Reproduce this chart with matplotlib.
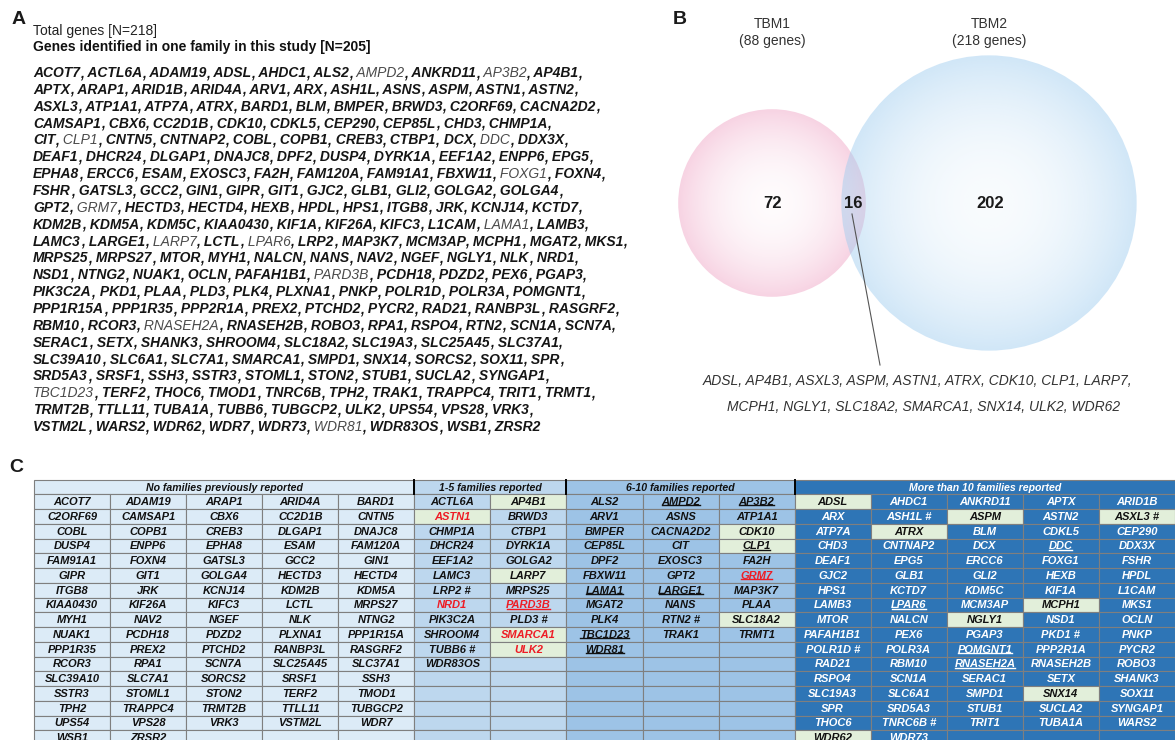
import numpy as np
import matplotlib
matplotlib.use("Agg")
import matplotlib.pyplot as plt
from matplotlib.patches import Rectangle, Circle

plt.rcParams['font.family'] = ['Liberation Sans', 'DejaVu Sans']

# ---------------- data ----------------
# panel A: gene list, line by line as printed
a_lines = [
    ["ACOT7", "ACTL6A", "ADAM19", "ADSL", "AHDC1", "ALS2", "AMPD2", "ANKRD11", "AP3B2", "AP4B1"],
    ["APTX", "ARAP1", "ARID1B", "ARID4A", "ARV1", "ARX", "ASH1L", "ASNS", "ASPM", "ASTN1", "ASTN2"],
    ["ASXL3", "ATP1A1", "ATP7A", "ATRX", "BARD1", "BLM", "BMPER", "BRWD3", "C2ORF69", "CACNA2D2"],
    ["CAMSAP1", "CBX6", "CC2D1B", "CDK10", "CDKL5", "CEP290", "CEP85L", "CHD3", "CHMP1A"],
    ["CIT", "CLP1", "CNTN5", "CNTNAP2", "COBL", "COPB1", "CREB3", "CTBP1", "DCX", "DDC", "DDX3X"],
    ["DEAF1", "DHCR24", "DLGAP1", "DNAJC8", "DPF2", "DUSP4", "DYRK1A", "EEF1A2", "ENPP6", "EPG5"],
    ["EPHA8", "ERCC6", "ESAM", "EXOSC3", "FA2H", "FAM120A", "FAM91A1", "FBXW11", "FOXG1", "FOXN4"],
    ["FSHR", "GATSL3", "GCC2", "GIN1", "GIPR", "GIT1", "GJC2", "GLB1", "GLI2", "GOLGA2", "GOLGA4"],
    ["GPT2", "GRM7", "HECTD3", "HECTD4", "HEXB", "HPDL", "HPS1", "ITGB8", "JRK", "KCNJ14", "KCTD7"],
    ["KDM2B", "KDM5A", "KDM5C", "KIAA0430", "KIF1A", "KIF26A", "KIFC3", "L1CAM", "LAMA1", "LAMB3"],
    ["LAMC3", "LARGE1", "LARP7", "LCTL", "LPAR6", "LRP2", "MAP3K7", "MCM3AP", "MCPH1", "MGAT2", "MKS1"],
    ["MRPS25", "MRPS27", "MTOR", "MYH1", "NALCN", "NANS", "NAV2", "NGEF", "NGLY1", "NLK", "NRD1"],
    ["NSD1", "NTNG2", "NUAK1", "OCLN", "PAFAH1B1", "PARD3B", "PCDH18", "PDZD2", "PEX6", "PGAP3"],
    ["PIK3C2A", "PKD1", "PLAA", "PLD3", "PLK4", "PLXNA1", "PNKP", "POLR1D", "POLR3A", "POMGNT1"],
    ["PPP1R15A", "PPP1R35", "PPP2R1A", "PREX2", "PTCHD2", "PYCR2", "RAD21", "RANBP3L", "RASGRF2"],
    ["RBM10", "RCOR3", "RNASEH2A", "RNASEH2B", "ROBO3", "RPA1", "RSPO4", "RTN2", "SCN1A", "SCN7A"],
    ["SERAC1", "SETX", "SHANK3", "SHROOM4", "SLC18A2", "SLC19A3", "SLC25A45", "SLC37A1"],
    ["SLC39A10", "SLC6A1", "SLC7A1", "SMARCA1", "SMPD1", "SNX14", "SORCS2", "SOX11", "SPR"],
    ["SRD5A3", "SRSF1", "SSH3", "SSTR3", "STOML1", "STON2", "STUB1", "SUCLA2", "SYNGAP1"],
    ["TBC1D23", "TERF2", "THOC6", "TMOD1", "TNRC6B", "TPH2", "TRAK1", "TRAPPC4", "TRIT1", "TRMT1"],
    ["TRMT2B", "TTLL11", "TUBA1A", "TUBB6", "TUBGCP2", "ULK2", "UPS54", "VPS28", "VRK3"],
    ["VSTM2L", "WARS2", "WDR62", "WDR7", "WDR73", "WDR81", "WDR83OS", "WSB1", "ZRSR2"],
]
# genes not identified in one family in this study (plain weight in A)
not_identified = ["AMPD2", "AP3B2", "CLP1", "DDC", "FOXG1", "GRM7", "LAMA1", "LARP7",
                  "LPAR6", "PARD3B", "RNASEH2A", "TBC1D23", "WDR81"]

# panel B: Venn counts
venn_sets = ["TBM1", "TBM2"]
venn_totals = [88, 218]
venn_counts = [72, 16, 202]   # only TBM1, shared, only TBM2
shared_genes = ["ADSL", "AP4B1", "ASXL3", "ASPM", "ASTN1", "ATRX", "CDK10", "CLP1", "LARP7",
                "MCPH1", "NGLY1", "SLC18A2", "SMARCA1", "SNX14", "ULK2", "WDR62"]

# panel C: table groups
group_titles = ["No families previously reported", "1-5 families reported",
                "6-10 families reported", "More than 10 families reported"]
group_ncols = [5, 2, 3, 5]
no_fam = ["ACOT7", "ADAM19", "ARAP1", "ARID4A", "BARD1", "C2ORF69", "CAMSAP1", "CBX6", "CC2D1B",
          "CNTN5", "COBL", "COPB1", "CREB3", "DLGAP1", "DNAJC8", "DUSP4", "ENPP6", "EPHA8", "ESAM",
          "FAM120A", "FAM91A1", "FOXN4", "GATSL3", "GCC2", "GIN1", "GIPR", "GIT1", "GOLGA4",
          "HECTD3", "HECTD4", "ITGB8", "JRK", "KCNJ14", "KDM2B", "KDM5A", "KIAA0430", "KIF26A",
          "KIFC3", "LCTL", "MRPS27", "MYH1", "NAV2", "NGEF", "NLK", "NTNG2", "NUAK1", "PCDH18",
          "PDZD2", "PLXNA1", "PPP1R15A", "PPP1R35", "PREX2", "PTCHD2", "RANBP3L", "RASGRF2",
          "RCOR3", "RPA1", "SCN7A", "SLC25A45", "SLC37A1", "SLC39A10", "SLC7A1", "SORCS2", "SRSF1",
          "SSH3", "SSTR3", "STOML1", "STON2", "TERF2", "TMOD1", "TPH2", "TRAPPC4", "TRMT2B",
          "TTLL11", "TUBGCP2", "UPS54", "VPS28", "VRK3", "VSTM2L", "WDR7", "WSB1", "ZRSR2"]
fam_1_5 = ["ACTL6A", "AP4B1", "ASTN1", "BRWD3", "CHMP1A", "CTBP1", "DHCR24", "DYRK1A", "EEF1A2",
           "GOLGA2", "LAMC3", "LARP7", "LRP2 #", "MRPS25", "NRD1", "PARD3B", "PIK3C2A", "PLD3 #",
           "SHROOM4", "SMARCA1", "TUBB6 #", "ULK2", "WDR83OS"]
fam_6_10 = ["ALS2", "AMPD2", "AP3B2", "ARV1", "ASNS", "ATP1A1", "BMPER", "CACNA2D2", "CDK10",
            "CEP85L", "CIT", "CLP1", "DPF2", "EXOSC3", "FA2H", "FBXW11", "GPT2", "GRM7", "LAMA1",
            "LARGE1", "MAP3K7", "MGAT2", "NANS", "PLAA", "PLK4", "RTN2 #", "SLC18A2", "TBC1D23",
            "TRAK1", "TRMT1", "WDR81"]
fam_gt10 = ["ADSL", "AHDC1", "ANKRD11", "APTX", "ARID1B", "ARX", "ASH1L #", "ASPM", "ASTN2",
            "ASXL3 #", "ATP7A", "ATRX", "BLM", "CDKL5", "CEP290", "CHD3", "CNTNAP2", "DCX", "DDC",
            "DDX3X", "DEAF1", "EPG5", "ERCC6", "FOXG1", "FSHR", "GJC2", "GLB1", "GLI2", "HEXB",
            "HPDL", "HPS1", "KCTD7", "KDM5C", "KIF1A", "L1CAM", "LAMB3", "LPAR6", "MCM3AP", "MCPH1",
            "MKS1", "MTOR", "NALCN", "NGLY1", "NSD1", "OCLN", "PAFAH1B1", "PEX6", "PGAP3", "PKD1 #",
            "PNKP", "POLR1D #", "POLR3A", "POMGNT1", "PPP2R1A", "PYCR2", "RAD21", "RBM10",
            "RNASEH2A", "RNASEH2B", "ROBO3", "RSPO4", "SCN1A", "SERAC1", "SETX", "SHANK3",
            "SLC19A3", "SLC6A1", "SMPD1", "SNX14", "SOX11", "SPR", "SRD5A3", "STUB1", "SUCLA2",
            "SYNGAP1", "THOC6", "TNRC6B #", "TRIT1", "TUBA1A", "WARS2", "WDR62", "WDR73"]
red_genes = ["ASTN1", "NRD1", "PARD3B", "SMARCA1", "ULK2", "GRM7"]
underlined = ["AMPD2", "AP3B2", "CLP1", "GRM7", "LAMA1", "LARGE1", "TBC1D23", "WDR81",
              "PARD3B", "DDC", "LPAR6", "POMGNT1", "RNASEH2A"]

group_bg = ["#dcebf7", "#bdd7ee", "#9dc3e6", "#2e75b6"]
green_bg = "#e2efda"
red = "#ee1c25"

# ---------------- figure ----------------
W, H = 1175, 740
fig = plt.figure(figsize=(W / 100, H / 100), dpi=100)
ax = fig.add_axes([0, 0, 1, 1])

# panel labels
for lab, (lx, ly) in zip("ABC", [(19, 19), (680, 20), (16, 467)]):
    ax.text(lx, ly, lab, fontsize=14, weight='bold', ha='center', va='center', color='#1a1a1a')

# ---- panel A ----
ax.text(33, 31, "Total genes [N=218]", fontsize=10, va='center', color='#222')
ax.text(33, 47, "Genes identified in one family in this study [N=205]", fontsize=10,
        weight='bold', va='center', color='#111')
y = 73
for i, line in enumerate(a_lines):
    prev = None
    for j, g in enumerate(line):
        last = (i == len(a_lines) - 1 and j == len(line) - 1)
        pieces = [((" " if j else "") + g, g in not_identified)]
        if not last:
            pieces.append((",", False))
        for s, thin in pieces:
            kw = dict(fontsize=10, style='italic', weight='normal' if thin else 'bold',
                      color='#4a4a4a' if thin else '#151515')
            if prev is None:
                prev = ax.text(33, y, s, ha='left', va='center', **kw)
            else:
                prev = ax.annotate(s, xy=(1, 0), xycoords=prev, ha='left', va='bottom', **kw)
    y += 16.86

# ---- panel B ----
cx = [772, 989]
cy = 203
radii = [10.0 * np.sqrt(t) for t in venn_totals]
circ_rgb = [(0.94, 0.64, 0.77), (0.62, 0.80, 0.94)]
alphas = [(0.04, 0.48), (0.07, 0.48)]
n = 400
gy, gx = np.mgrid[-1:1:n * 1j, -1:1:n * 1j]
dist = np.clip(np.hypot(gx, gy), 0, 1)
for k in range(2):
    img = np.zeros((n, n, 4))
    img[..., :3] = circ_rgb[k]
    img[..., 3] = alphas[k][0] + (alphas[k][1] - alphas[k][0]) * dist ** 2
    r = radii[k]
    im = ax.imshow(img, extent=(cx[k] - r, cx[k] + r, cy + r, cy - r), zorder=1 + k,
                   interpolation='bilinear', aspect='auto')
    im.set_clip_path(Circle((cx[k], cy), r, transform=ax.transData))
    ax.text(cx[k], 24, venn_sets[k], fontsize=10, ha='center', va='center', color='#333')
    ax.text(cx[k], 41, "(%d genes)" % venn_totals[k], fontsize=10, ha='center', va='center',
            color='#333')
for val, x in zip(venn_counts, [773, 853, 990]):
    ax.text(x, cy, str(val), fontsize=12, weight='bold', ha='center', va='center',
            color='#1a1a1a', zorder=5)
ax.plot([852, 880], [214, 365], color='#555', lw=0.8, zorder=5)
half = 9
ax.text(918, 381, ", ".join(shared_genes[:half]) + ",", fontsize=10, style='italic',
        ha='center', va='center', color='#333')
ax.text(924, 407, ", ".join(shared_genes[half:]), fontsize=10, style='italic',
        ha='center', va='center', color='#333')

# ---- panel C ----
x0, y0 = 34.0, 480.0
cw = (W - x0) / sum(group_ncols)
hdr_h, row_h = 14.3, 14.75
n_rows = 17
edge = '#7f7f7f'
under_texts = []
c0 = 0
for gi, genes in enumerate([no_fam, fam_1_5, fam_6_10, fam_gt10]):
    nc = group_ncols[gi]
    gx0 = x0 + c0 * cw
    dark = gi == 3
    ax.add_patch(Rectangle((gx0, y0), nc * cw, hdr_h, facecolor=group_bg[gi], edgecolor=edge,
                           lw=0.8, zorder=3, clip_on=False))
    ax.text(gx0 + nc * cw / 2, y0 + hdr_h / 2 + 0.5, group_titles[gi], fontsize=7.6,
            style='italic', weight='bold', ha='center', va='center',
            color='white' if dark else '#111', zorder=6)
    if gi > 0:
        ax.plot([gx0, gx0], [y0, y0 + hdr_h], color='black', lw=1.4, zorder=7)
    for r_i in range(n_rows):
        for c in range(nc):
            idx = r_i * nc + c
            gene = genes[idx] if idx < len(genes) else ""
            base = gene.replace(" #", "")
            is_green = base in shared_genes
            bx = gx0 + c * cw
            by = y0 + hdr_h + r_i * row_h
            ax.add_patch(Rectangle((bx, by), cw, row_h,
                                   facecolor=green_bg if is_green else group_bg[gi],
                                   edgecolor=edge, lw=0.8, zorder=3))
            if not gene:
                continue
            if base in red_genes:
                col = red
            elif dark and not is_green:
                col = 'white'
            else:
                col = '#111'
            t = ax.text(bx + cw / 2, by + row_h / 2 + 0.5, gene, fontsize=8, style='italic',
                        weight='bold', ha='center', va='center', color=col, zorder=6)
            if base in underlined:
                under_texts.append((t, col))
    c0 += nc

ax.set_xlim(0, W)
ax.set_ylim(H, 0)
ax.axis('off')

fig.canvas.draw()
rend = fig.canvas.get_renderer()
inv = ax.transData.inverted()
for t, col in under_texts:
    bb = t.get_window_extent(rend).transformed(inv)
    yb = max(bb.y0, bb.y1) - 1.8
    ax.plot([bb.x0 + 0.5, bb.x1 - 0.5], [yb, yb], color=col, lw=1.0, zorder=7)

fig.savefig("out.png", dpi=100)
